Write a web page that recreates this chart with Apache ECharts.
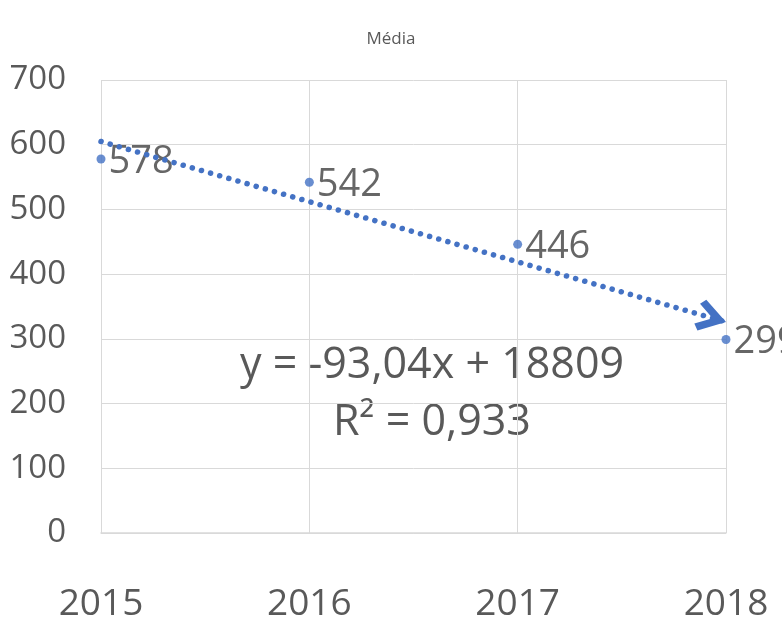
<!DOCTYPE html>
<html>
<head>
<meta charset="utf-8">
<script src="https://cdn.jsdelivr.net/npm/echarts@6/dist/echarts.min.js"></script>
<style>html,body{margin:0;padding:0;background:#fff}#c{width:782px;height:623px}</style>
</head>
<body>
<div id="c"></div>
<script>
const years = [2015, 2016, 2017, 2018];
const values = [578, 542, 446, 299];
const trendYears = [2015, 2018];
const trendValues = [605, 326];
const yTicks = [0, 100, 200, 300, 400, 500, 600, 700];
const titleText = 'Média';
const equationLines = ['y = -93,04x + 18809', 'R² = 0,933'];

const FONT = '"Open Sans", sans-serif';
const BLUE = '#4472C4';
const chart = echarts.init(document.getElementById('c'), null, {renderer: 'canvas'});
chart.setOption({
  animation: false,
  backgroundColor: '#fff',
  title: {
    text: titleText, left: 'center', top: 26,
    textStyle: {fontFamily: FONT, fontSize: 17, fontWeight: 'normal', color: '#595959'}
  },
  grid: {left: 101, right: 56, top: 80, bottom: 86, containLabel: false},
  xAxis: {
    type: 'value', min: years[0], max: years[years.length - 1], interval: 1,
    axisLine: {show: true, lineStyle: {color: '#d9d9d9', width: 1.5}},
    axisTick: {show: false},
    splitLine: {show: true, lineStyle: {color: '#d9d9d9', width: 1}},
    axisLabel: {fontFamily: FONT, fontSize: 37, color: '#595959', margin: 53, lineHeight: 37,
      formatter: v => String(v)}
  },
  yAxis: {
    type: 'value', min: yTicks[0], max: yTicks[yTicks.length - 1], interval: 100,
    axisLine: {show: false}, axisTick: {show: false},
    splitLine: {show: true, lineStyle: {color: '#d9d9d9', width: 1}},
    axisLabel: {fontFamily: FONT, fontSize: 33, color: '#595959', margin: 35}
  },
  graphic: [
    {type: 'text', x: 432, y: 366, style: {text: equationLines[0], fontFamily: FONT, fontSize: 43, fill: '#595959', align: 'center', verticalAlign: 'middle'}},
    {type: 'text', x: 432, y: 423, style: {text: equationLines[1], fontFamily: FONT, fontSize: 43, fill: '#595959', align: 'center', verticalAlign: 'middle'}}
  ],
  series: [
    {
      type: 'scatter',
      data: years.map((y, i) => [y, values[i]]),
      symbol: 'circle', symbolSize: 9,
      itemStyle: {color: BLUE},
      label: {show: true, position: 'right', distance: 3, offset: [0, 3], fontFamily: FONT, fontSize: 38, color: '#404040',
        formatter: p => String(p.value[1])},
      markLine: {
        silent: true,
        animation: false,
        symbol: ['none', 'path://M50,0 L100,72 L82,86 L50,40 L18,86 L0,72 Z M49.9,-86 L50.1,-86 L50,-85.9 Z'],
        symbolSize: [32, 60],
        label: {show: false},
        lineStyle: {color: BLUE, width: 5.5, type: [0.1, 9.4], cap: 'round'},
        data: [[{coord: [trendYears[0], trendValues[0]]}, {coord: [trendYears[1], trendValues[1]]}]]
      },
      z: 3
    }
  ]
});
</script>
</body>
</html>
